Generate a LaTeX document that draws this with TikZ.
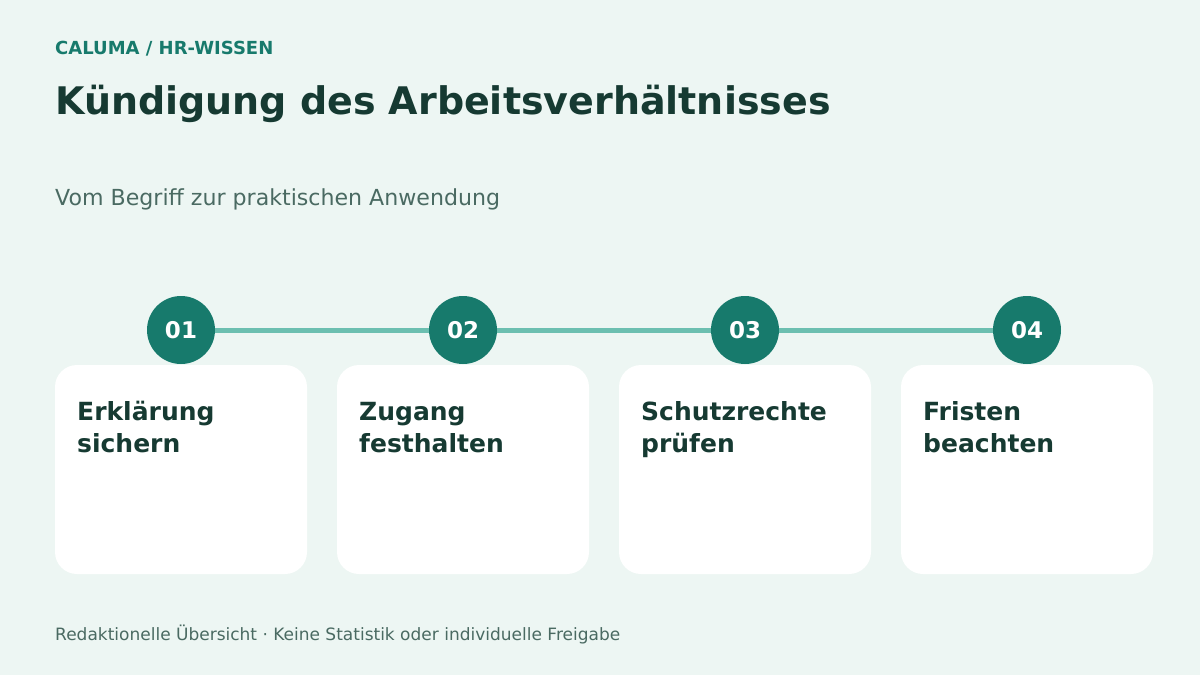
\documentclass[tikz,border=0pt]{standalone}
\usepackage{fontspec}
\setmainfont{DejaVu Sans}
\definecolor{bgc}{HTML}{EDF6F3}
\definecolor{teal}{HTML}{177A6C}
\definecolor{dark}{HTML}{163A32}
\definecolor{muted}{HTML}{4A6A62}
\definecolor{linec}{HTML}{6CBFB0}
\begin{document}
\begin{tikzpicture}[x=1pt,y=-1pt,
  card/.style={fill=white,rounded corners=22pt,draw=none},
  stepcircle/.style={circle,fill=teal,minimum size=68pt,inner sep=0pt,text=white,font=\bfseries\fontsize{23}{26}\selectfont},
  cardtext/.style={anchor=base west,inner sep=0pt,text=dark,font=\bfseries\fontsize{25}{32}\selectfont,align=left}]
\fill[bgc] (0,0) rectangle (1200,675);
\useasboundingbox (0,0) rectangle (1200,675);
\node[anchor=base west,inner sep=0pt,text=teal,font=\bfseries\fontsize{18}{21}\selectfont] (brand) at (55,54) {CALUMA / HR-WISSEN};
\node[anchor=base west,inner sep=0pt,text=dark,font=\bfseries\fontsize{38}{46}\selectfont] (title) at (55,114) {Kündigung des Arbeitsverhältnisses};
\node[anchor=base west,inner sep=0pt,text=muted,font=\fontsize{22.1}{26}\selectfont] (sub) at (55,205) {Vom Begriff zur praktischen Anwendung};
\foreach \i/\x/\t in {1/55/{Erklärung\\sichern},2/337/{Zugang\\festhalten},3/619/{Schutzrechte\\prüfen},4/901/{Fristen\\beachten}}{
  \fill[card] (\x,365) rectangle ++(252,209);
  \node[cardtext] (t\i) at (\x+22,452) {\t};
}
\foreach \i/\x in {1/181,2/463,3/745,4/1027}{
  \coordinate (c\i) at (\x,330);
}
\draw[linec,line width=5pt] (c1) -- (c2) -- (c3) -- (c4);
\foreach \i in {1,2,3,4}{
  \node[stepcircle] (n\i) at (c\i) {0\i};
}
\node[anchor=base west,inner sep=0pt,text=muted,font=\fontsize{17}{20}\selectfont] (foot) at (55,640) {Redaktionelle Übersicht · Keine Statistik oder individuelle Freigabe};
\end{tikzpicture}
\end{document}
